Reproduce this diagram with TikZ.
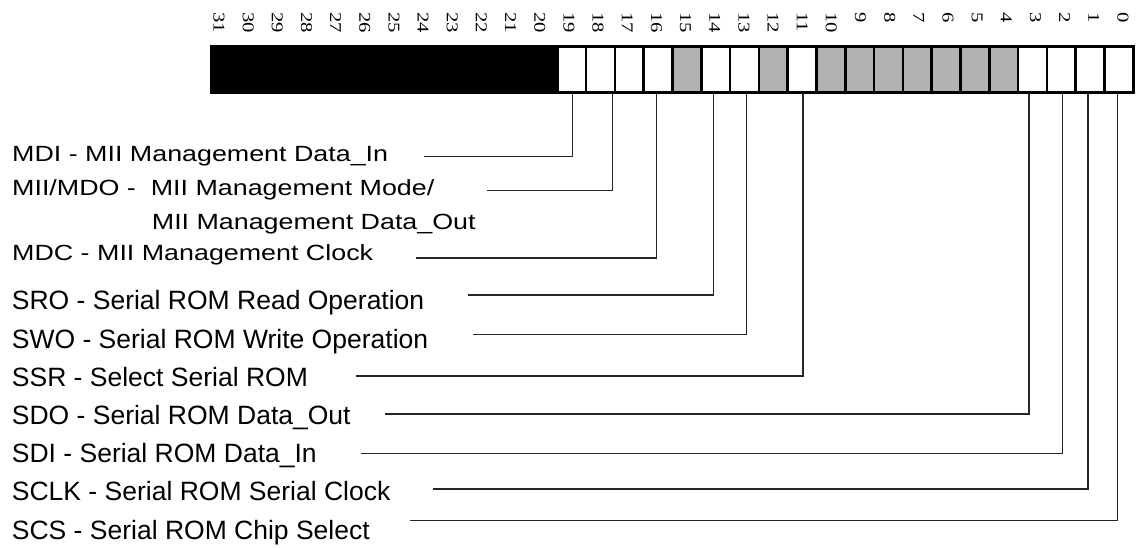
\documentclass[tikz,border=0pt]{standalone}
\usepackage{fontspec}
\usepackage{graphicx}
\setmainfont{Liberation Sans}
\newfontfamily\numfont{Liberation Serif}
\usetikzlibrary{calc}
\tikzset{
  cellbox/.style={draw=black, line width=2.6pt, minimum width=28.8pt, minimum height=46pt, inner sep=0pt, outer sep=0pt},
  resv/.style={cellbox, fill=black},
  used/.style={cellbox, fill=white},
  unused/.style={cellbox, fill=black!30},
  bitnum/.style={rotate=-90, anchor=west, inner sep=0pt, font=\numfont\fontsize{16.5}{16.5}\selectfont},
  uplab/.style={anchor=base west, inner sep=0pt, font=\fontsize{22}{22}\selectfont},
  lowlab/.style={anchor=base west, inner sep=0pt, font=\fontsize{26.5}{26.5}\selectfont},
  leader/.style={draw=black!85, line width=1.3pt}
}
\newcommand{\upt}[1]{\scalebox{1.22}[1]{#1}}
\begin{document}
\begin{tikzpicture}[x=1pt,y=-1pt]
\useasboundingbox (0,0) rectangle (1141,547);
% register cells
\foreach \b in {0,...,31}{
  \pgfmathsetmacro{\cx}{1118.9-28.8*\b}
  \ifnum\b>19
    \node[resv] (b\b) at (\cx,69.7) {};
  \else
    \ifnum\b=15 \node[unused] (b\b) at (\cx,69.7) {};
    \else\ifnum\b=12 \node[unused] (b\b) at (\cx,69.7) {};
    \else\ifnum\b>3 \ifnum\b<11 \node[unused] (b\b) at (\cx,69.7) {};
      \else \node[used] (b\b) at (\cx,69.7) {}; \fi
    \else \node[used] (b\b) at (\cx,69.7) {};
    \fi\fi\fi
  \fi
}
% bit numbers
\foreach \b in {0,...,31}{
  \pgfmathsetmacro{\lx}{219+(31-\b)*29.16}
  \node[bitnum] (n\b) at (\lx,12) {\scalebox{1.25}[1]{\b}};
}
% labels
\node[uplab] (tMDI) at (12,161.7) {\upt{MDI - MII Management Data\_In}};
\node[uplab] (tMII) at (12,195) {\upt{MII/MDO - \ MII Management Mode/}};
\node[uplab] (tMIIb) at (151.7,229) {\upt{MII Management Data\_Out}};
\node[uplab] (tMDC) at (12,260.7) {\upt{MDC - MII Management Clock}};
\node[lowlab] (tSRO) at (11.7,309.3) {SRO - Serial ROM Read Operation};
\node[lowlab] (tSWO) at (11.7,348.3) {SWO - Serial ROM Write Operation};
\node[lowlab] (tSSR) at (11.7,386) {SSR - Select Serial ROM};
\node[lowlab] (tSDO) at (11.7,424) {SDO - Serial ROM Data\_Out};
\node[lowlab] (tSDI) at (11.7,462.7) {SDI - Serial ROM Data\_In};
\node[lowlab] (tSCLK) at (11.7,500.7) {SCLK - Serial ROM Serial Clock};
\node[lowlab] (tSCS) at (11.7,539.3) {SCS - Serial ROM Chip Select};
% leader start points
\coordinate (sMDI) at (424,156.7);
\coordinate (sMII) at (487,190.7);
\coordinate (sMDC) at (416,258);
\coordinate (sSRO) at (468,295);
\coordinate (sSWO) at (473,334.3);
\coordinate (sSSR) at (356,376);
\coordinate (sSDO) at (385,414);
\coordinate (sSDI) at (360.7,453.7);
\coordinate (sSCLK) at (432.7,489);
\coordinate (sSCS) at (410,520.7);
% leaders
\draw[leader] (sMDI) -| ($(b19.south)+(0.6,0)$);
\draw[leader] (sMII) -| ($(b18.south)+(11.8,0)$);
\draw[leader] (sMDC) -| ($(b16.south)+(-1.4,0)$);
\draw[leader] (sSRO) -| ($(b14.south)+(-2,0)$);
\draw[leader] (sSWO) -| ($(b13.south)+(2.2,0)$);
\draw[leader] (sSSR) -| ($(b11.south)+(1,0)$);
\draw[leader] (sSDO) -| ($(b3.south)+(-3.5,0)$);
\draw[leader] (sSDI) -| ($(b2.south)+(1.4,0)$);
\draw[leader] (sSCLK) -| ($(b1.south)+(-2.1,0)$);
\draw[leader] (sSCS) -| ($(b0.south)+(-1.6,0)$);
\end{tikzpicture}
\end{document}
